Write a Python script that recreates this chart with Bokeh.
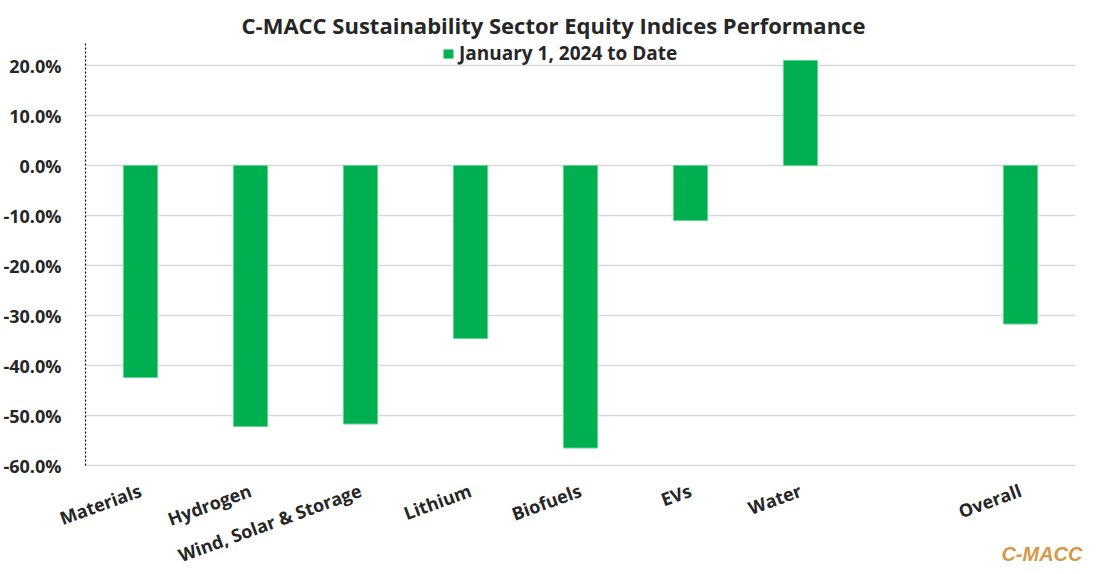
from bokeh.plotting import figure
from bokeh.models import (Range1d, FixedTicker, NumeralTickFormatter,
                          Legend, LegendItem, Label, ColumnDataSource)
from bokeh.embed import file_html
from bokeh.resources import INLINE

categories = ["Materials", "Hydrogen", "Wind, Solar & Storage", "Lithium",
              "Biofuels", "EVs", "Water", " ", "Overall"]
bar_categories = ["Materials", "Hydrogen", "Wind, Solar & Storage", "Lithium",
                  "Biofuels", "EVs", "Water", "Overall"]
ytd_returns = [-0.424, -0.522, -0.517, -0.346, -0.565, -0.110, 0.210, -0.317]
y_ticks = [-0.6, -0.5, -0.4, -0.3, -0.2, -0.1, 0.0, 0.1, 0.2]

TXT = "#262626"
FONT = "Open Sans"

W, H = 1100, 566
AX_X = 85          # pixel position of the value axis
CAT_PX = 110       # pixels per category slot
PX = 500.0         # pixels per unit of return
ZERO_Y = 165       # pixel row of the 0% line

# category slot positions (centre of slot i is i + 0.5)
slot = {c: i + 0.5 for i, c in enumerate(categories)}
bar_x = [slot[c] for c in bar_categories]

p = figure(width=W, height=H, output_backend="svg", toolbar_location=None,
           x_range=Range1d(-AX_X / CAT_PX, (W - AX_X) / CAT_PX),
           y_range=Range1d(-(H - ZERO_Y) / PX, ZERO_Y / PX),
           min_border_left=0, min_border_right=0, min_border_top=0,
           min_border_bottom=0)
p.outline_line_color = None
p.background_fill_color = "white"
p.border_fill_color = "white"

src = ColumnDataSource(dict(x=bar_x, top=ytd_returns, name=bar_categories))
r = p.vbar(x="x", top="top", bottom=0, width=0.31, source=src,
           fill_color="#00B050", line_color="#5fd68f", line_width=1)

# y axis (dashed) at the left edge of the first category slot
p.yaxis.fixed_location = 0
p.yaxis.ticker = FixedTicker(ticks=y_ticks)
p.yaxis.bounds = (-0.6, 0.246)
p.yaxis.formatter = NumeralTickFormatter(format="0.0%")
p.yaxis.axis_line_color = "black"
p.yaxis.axis_line_dash = "2 2"
p.yaxis.axis_line_width = 1.2
p.yaxis.major_tick_line_color = None
p.yaxis.minor_tick_line_color = None
p.yaxis.major_label_standoff = 18
p.yaxis.major_label_text_font = FONT
p.yaxis.major_label_text_font_style = "bold"
p.yaxis.major_label_text_font_size = "18px"
p.yaxis.major_label_text_color = TXT

# category axis at the -60% line
p.xaxis.fixed_location = -0.6
p.xaxis.ticker = FixedTicker(ticks=[slot[c] for c in categories])
p.xaxis.major_label_overrides = {slot[c]: c for c in categories}
p.xaxis.axis_line_color = None
p.xaxis.major_tick_line_color = None
p.xaxis.minor_tick_line_color = None
p.xaxis.major_label_orientation = 0.35
p.xaxis.major_label_standoff = 18
p.xaxis.major_label_text_font = FONT
p.xaxis.major_label_text_font_style = "bold"
p.xaxis.major_label_text_font_size = "18px"
p.xaxis.major_label_text_color = TXT

p.xgrid.grid_line_color = None
p.ygrid.grid_line_color = "#D9D9D9"
p.ygrid.grid_line_width = 1.6
p.ygrid.cross_bounds = (0, len(categories))

# legend
legend = Legend(items=[LegendItem(label="January 1, 2024 to Date", renderers=[r])],
                location=(357 + AX_X, 500), orientation="horizontal",
                glyph_width=12, glyph_height=11, label_height=20,
                padding=0, margin=0, label_standoff=5,
                border_line_color=None, background_fill_alpha=0,
                label_text_font=FONT, label_text_font_style="bold",
                label_text_font_size="19px", label_text_color=TXT)
p.add_layout(legend, "center")

# title
p.add_layout(Label(x=553, y=H - 24, x_units="screen", y_units="screen",
                   text="C-MACC Sustainability Sector Equity Indices Performance",
                   text_align="center", text_baseline="alphabetic",
                   text_font=FONT, text_font_style="bold", text_font_size="22px",
                   text_color=TXT))

# watermark
p.add_layout(Label(x=1082, y=H - 553, x_units="screen", y_units="screen",
                   text="C-MACC", text_align="right", text_baseline="alphabetic",
                   text_font="Liberation Sans", text_font_style="bold italic",
                   text_font_size="20px", text_color="#D39A4B"))

open("out.html", "w").write(file_html(p, INLINE))
